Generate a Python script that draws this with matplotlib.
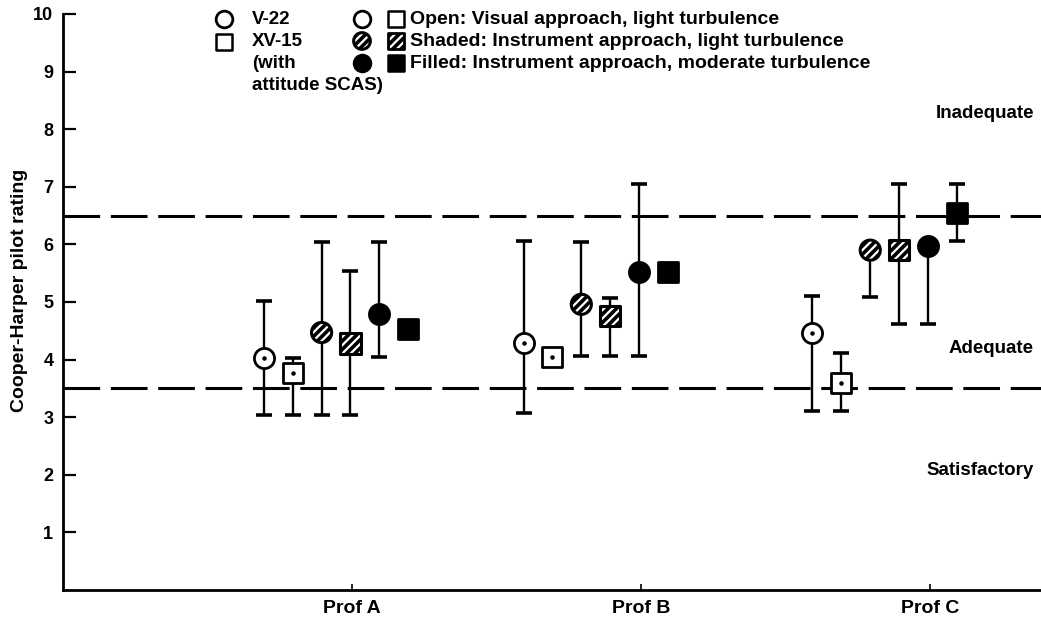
import numpy as np
import matplotlib
matplotlib.use("Agg")
import matplotlib.pyplot as plt

plt.rcParams['font.family'] = ['Liberation Sans', 'DejaVu Sans']
plt.rcParams['font.weight'] = 'bold'
plt.rcParams['hatch.linewidth'] = 2.6

# data
profiles = ["Prof A", "Prof B", "Prof C"]
group_start = [0.695, 1.594, 2.594]   # x of the first marker in each group
series_step = 0.1

# series: V-22 / XV-15, open / shaded / filled ; mean, low end, high end
v22_open = [4.03, 4.28, 4.47]
v22_open_lo = [3.04, 3.08, 3.10]
v22_open_hi = [5.02, 6.06, 5.10]

xv15_open = [3.77, 4.05, 3.60]
xv15_open_lo = [3.04, np.nan, 3.11]
xv15_open_hi = [4.02, np.nan, 4.11]

v22_shaded = [4.47, 4.96, 5.90]
v22_shaded_lo = [3.04, 4.07, 5.09]
v22_shaded_hi = [6.05, 6.05, np.nan]

xv15_shaded = [4.28, 4.76, 5.90]
xv15_shaded_lo = [3.04, 4.07, 4.61]
xv15_shaded_hi = [5.53, 5.07, 7.05]

v22_filled = [4.79, 5.52, 5.97]
v22_filled_lo = [4.05, 4.07, 4.61]
v22_filled_hi = [6.05, 7.04, np.nan]

xv15_filled = [4.53, 5.52, 6.54]
xv15_filled_lo = [np.nan, np.nan, 6.06]
xv15_filled_hi = [np.nan, np.nan, 7.05]

boundaries = [6.5, 3.5]
regions = ["Inadequate", "Adequate", "Satisfactory"]
region_y = [8.28, 4.2, 2.07]

series = [
    (v22_open, v22_open_lo, v22_open_hi, 'o', 'open'),
    (xv15_open, xv15_open_lo, xv15_open_hi, 's', 'open'),
    (v22_shaded, v22_shaded_lo, v22_shaded_hi, 'o', 'shaded'),
    (xv15_shaded, xv15_shaded_lo, xv15_shaded_hi, 's', 'shaded'),
    (v22_filled, v22_filled_lo, v22_filled_hi, 'o', 'filled'),
    (xv15_filled, xv15_filled_lo, xv15_filled_hi, 's', 'filled'),
]

fig = plt.figure(figsize=(10.41, 6.24), dpi=100)
ax = fig.add_axes([63/1041, 34/624, 978/1041, 576/624])

for b in boundaries:
    ax.axhline(b, color='black', lw=2.2, dashes=(12, 3.5), zorder=1)

ms = 14.5
for i, (m, lo, hi, mk, style) in enumerate(series):
    x = np.array(group_start) + i * series_step
    m = np.array(m)
    lo = np.array(lo)
    hi = np.array(hi)
    err_lo = np.nan_to_num(m - lo, nan=0.0)
    err_hi = np.nan_to_num(hi - m, nan=0.0)
    ax.errorbar(x, m, yerr=[err_lo, err_hi], fmt='none', ecolor='black',
                elinewidth=1.7, capsize=5.5, capthick=2.6, zorder=2)
    if style == 'open':
        ax.scatter(x, m, s=ms**2, marker=mk, facecolors='white',
                   edgecolors='black', linewidths=2, zorder=3)
        ax.scatter(x, m, s=5, marker='o', color='black', zorder=4)
    elif style == 'shaded':
        ax.scatter(x, m, s=ms**2, marker=mk, facecolors='white',
                   edgecolors='black', linewidths=2.2, hatch='////', zorder=3)
    else:
        ax.scatter(x, m, s=ms**2, marker=mk, facecolors='black',
                   edgecolors='black', linewidths=2, zorder=3)

for txt, yy in zip(regions, region_y):
    ax.text(3.36, yy, txt, ha='right', va='center', fontsize=13.5, fontweight='bold')

ax.set_xlim(0, 3.385)
ax.set_ylim(0, 10)
ax.set_yticks(range(1, 11))
ax.set_xticks([1, 2, 3])
ax.set_xticklabels(profiles, fontsize=14, fontweight='bold')
ax.tick_params(axis='y', direction='in', length=9, width=1.6, pad=7, labelsize=13)
ax.tick_params(axis='x', direction='in', length=4, width=1.2, pad=7.5)
for s in ['top', 'right']:
    ax.spines[s].set_visible(False)
for s in ['left', 'bottom']:
    ax.spines[s].set_linewidth(2)
ax.set_ylabel("Cooper-Harper pilot rating", fontsize=14, fontweight='bold')
ax.yaxis.set_label_coords(-0.036, 0.52)

# legend drawn by hand in pixel space
lg = fig.add_axes([0, 0, 1, 1])
lg.set_xlim(0, 1041)
lg.set_ylim(624, 0)
lg.axis('off')
lms = 12
lg.scatter([224], [19], s=lms**2, marker='o', facecolors='white', edgecolors='black', linewidths=2)
lg.scatter([224], [42], s=lms**2, marker='s', facecolors='white', edgecolors='black', linewidths=1.8)
for t, yy in zip(["V-22", "XV-15", "(with", "attitude SCAS)"], [19, 42, 63, 85]):
    lg.text(252, yy, t, ha='left', va='center', fontsize=13.5, fontweight='bold')

rows = [19, 41, 63]
lg.scatter([362], [rows[0]], s=lms**2, marker='o', facecolors='white', edgecolors='black', linewidths=2)
lg.scatter([396], [rows[0]], s=lms**2, marker='s', facecolors='white', edgecolors='black', linewidths=1.8)
lg.scatter([362], [rows[1]], s=lms**2, marker='o', facecolors='white', edgecolors='black', linewidths=2.2, hatch='////')
lg.scatter([396], [rows[1]], s=lms**2, marker='s', facecolors='white', edgecolors='black', linewidths=2, hatch='////')
lg.scatter([362], [rows[2]], s=lms**2, marker='o', facecolors='black', edgecolors='black', linewidths=2)
lg.scatter([396], [rows[2]], s=lms**2, marker='s', facecolors='black', edgecolors='black', linewidths=1.8)
legend_text = ["Open: Visual approach, light turbulence",
               "Shaded: Instrument approach, light turbulence",
               "Filled: Instrument approach, moderate turbulence"]
for t, yy in zip(legend_text, rows):
    lg.text(410, yy, t, ha='left', va='center', fontsize=14, fontweight='bold')

fig.savefig("out.png", dpi=100)
